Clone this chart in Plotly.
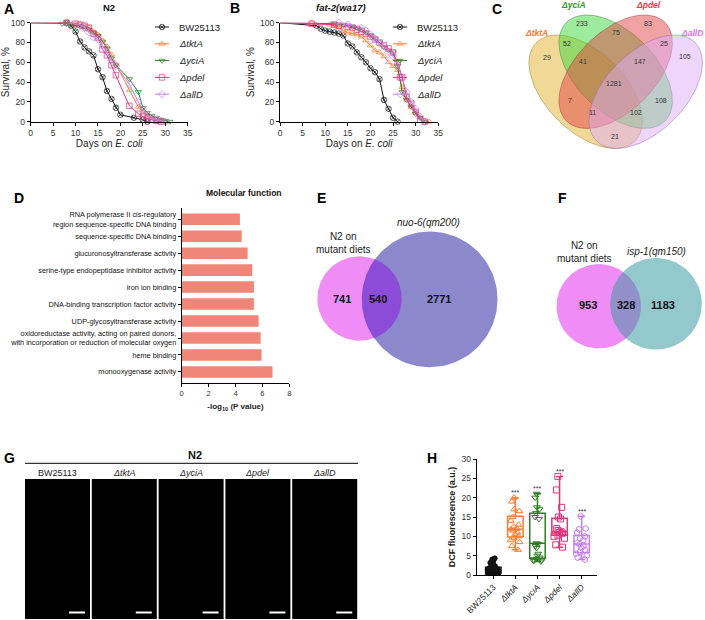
import numpy as np
import plotly.graph_objects as go

W, H = 705, 620
FONT = "Liberation Sans, Arial, sans-serif"

# ---------------- A / B : survival curves ----------------
strains = ["BW25113", "ΔtktA", "ΔyciA", "Δpdel", "ΔallD"]
colors = ["#111111", "#FF7A2A", "#2E7D22", "#E0337C", "#C77DF3"]
symbols = ["circle-x-open", "triangle-up-open", "triangle-down-open", "square-open", "diamond-open"]

n2_days = [
    [0, 8, 9, 10, 11, 12, 13, 14, 15, 16, 17, 18, 19, 20, 23, 25, 26],
    [0, 8, 10, 11, 12, 13, 14, 15, 16, 17, 18, 19, 22, 24, 25, 26, 27, 28, 29, 30],
    [0, 7, 8, 9, 10, 11, 12, 13, 14, 15, 16, 17, 18, 19, 22, 24, 25, 26, 27, 28, 29, 30, 31],
    [0, 8, 10, 11, 12, 13, 14, 15, 16, 17, 18, 19, 22, 24, 25, 26, 27, 28, 29],
    [0, 8, 11, 12, 13, 14, 15, 16, 17, 18, 19, 22, 24, 25, 26, 27, 28, 29, 30],
]
n2_surv = [
    [100, 100, 97, 91, 81, 75, 71, 67, 53, 45, 31, 23, 14, 7, 4, 2, 0],
    [100, 100, 99, 98, 97, 95, 91, 88, 82, 76, 68, 58, 32, 15, 10, 6, 4, 2, 1, 0],
    [100, 99, 99, 98, 97, 96, 94, 93, 90, 87, 81, 74, 64, 57, 43, 30, 14, 9, 6, 4, 2, 1, 0],
    [100, 100, 99, 98, 97, 95, 89, 85, 73, 67, 57, 47, 16, 8, 5, 3, 2, 1, 0],
    [100, 100, 98, 95, 90, 85, 83, 77, 70, 62, 56, 38, 20, 12, 7, 4, 2, 1, 0],
]
fat2_days = [
    [0, 8, 9, 10, 11, 12, 13, 14, 15, 16, 17, 18, 19, 20, 21, 22, 23, 24, 25, 26],
    [0, 7, 11, 12, 13, 14, 15, 16, 17, 18, 19, 20, 21, 22, 23, 24, 25, 26, 27, 28, 29, 30, 31, 32, 33],
    [0, 12, 14, 16, 17, 18, 19, 20, 21, 22, 23, 24, 25, 26, 27, 28, 29, 30, 31, 32],
    [0, 7, 12, 13, 15, 16, 17, 18, 19, 20, 21, 22, 23, 24, 25, 26, 27, 28, 29, 30, 31, 32],
    [0, 13, 15, 18, 19, 20, 21, 22, 23, 24, 25, 26, 27, 28, 29, 30, 31, 32],
]
fat2_surv = [
    [100, 97, 94, 92, 91, 90, 89, 87, 79, 76, 70, 65, 60, 54, 50, 43, 22, 13, 4, 0],
    [100, 100, 98, 97, 95, 92, 90, 89, 88, 86, 82, 77, 72, 70, 66, 60, 56, 52, 35, 22, 15, 10, 4, 1, 0],
    [100, 99, 98, 96, 95, 93, 90, 87, 84, 80, 75, 72, 70, 56, 30, 22, 15, 8, 4, 0],
    [100, 99, 98, 97, 96, 95, 93, 91, 89, 86, 83, 80, 77, 74, 70, 60, 45, 25, 18, 10, 2, 0],
    [100, 100, 98, 95, 92, 88, 84, 79, 76, 70, 66, 58, 44, 30, 20, 13, 5, 0],
]

# ---------------- C : four-set Venn ----------------
venn4_sets = ["ΔtktA", "ΔyciA", "Δpdel", "ΔallD"]
venn4_counts = [29, 233, 83, 105, 52, 75, 25, 41, 147, 1281, 7, 108, 11, 102, 21]

# ---------------- D : GO molecular function ----------------
go_terms = [
    "RNA polymerase II cis-regulatory<br>region sequence-specific DNA binding",
    "sequence-specific DNA binding",
    "glucuronosyltransferase activity",
    "serine-type endopeptidase inhibitor activity",
    "iron ion binding",
    "DNA-binding transcription factor activity",
    "UDP-glycosyltransferase activity",
    "oxidoreductase activity, acting on paired donors,<br>with incorporation or reduction of molecular oxygen",
    "heme binding",
    "monooxygenase activity",
]
go_logp = [4.33, 4.46, 4.90, 5.25, 5.37, 5.37, 5.72, 5.87, 5.94, 6.75]

# ---------------- E / F : two-set Venns ----------------
e_counts = [741, 540, 2771]
f_counts = [953, 328, 1183]

# ---------------- H : DCF fluorescence ----------------
dcf_points = [
    [0.1, 0.2, 0.3, 0.4, 0.5, 0.5, 0.6, 0.7, 0.8, 0.9, 1.0, 1.0, 1.1, 1.2, 1.3, 1.5,
     1.6, 1.8, 2.0, 2.1, 2.3, 2.5, 2.8, 3.2, 3.6, 4.0, 4.3],
    [6.5, 7.5, 8.5, 9.0, 9.6, 10.0, 10.5, 11.0, 11.5, 11.8, 12.0, 12.5, 13.0, 14.0,
     15.0, 16.5, 17.0, 19.0, 20.0],
    [3.5, 3.6, 3.8, 4.0, 4.2, 4.5, 5.0, 5.5, 7.0, 7.5, 8.0, 8.2, 14.5, 15.0, 16.0,
     17.0, 17.5, 20.0, 21.0],
    [7.2, 7.8, 9.5, 10.0, 10.3, 10.8, 11.0, 11.2, 11.5, 12.0, 14.5, 15.0, 17.5, 22.0, 25.5],
    [4.0, 4.5, 5.0, 5.5, 6.0, 6.5, 7.0, 7.5, 8.0, 8.3, 9.0, 9.5, 10.0, 11.0, 11.8, 12.0, 15.2],
]
dcf_q1 = [0.5, 9.8, 4.3, 10.3, 5.8]
dcf_median = [1.0, 11.8, 8.2, 11.2, 8.0]
dcf_q3 = [2.0, 15.2, 16.0, 14.7, 10.2]
dcf_sig = ["", "***", "***", "***", "***"]


def px_x(p):
    return p / W


def px_y(p):
    return 1 - p / H


def label(s):
    return s if s.startswith("BW") else "<i>" + s + "</i>"


fig = go.Figure()

axis_common = dict(showline=True, linecolor="black", linewidth=1, ticks="outside",
                   ticklen=3, tickwidth=1, tickcolor="black", showgrid=False,
                   zeroline=False, automargin=False, tickfont=dict(size=8.5, color="#333"))

# survival panels
for days, surv, xa, ya in [(n2_days, n2_surv, "x", "y"), (fat2_days, fat2_surv, "x2", "y2")]:
    for i, s in enumerate(strains):
        sizes = [0] + [5.5] * (len(days[i]) - 1)
        fig.add_trace(go.Scatter(
            x=days[i], y=surv[i], mode="lines+markers", name=label(s),
            xaxis=xa, yaxis=ya, showlegend=False, cliponaxis=False,
            line=dict(color=colors[i], width=1),
            marker=dict(symbol=symbols[i], size=sizes, color=colors[i],
                        line=dict(width=1, color=colors[i]))))

fig.update_layout(
    xaxis=dict(domain=[px_x(30.7), px_x(187.7)], range=[0, 35], dtick=5, anchor="y",
               title=dict(text="Days on <i>E. coli</i>", font=dict(size=10), standoff=3),
               **axis_common),
    yaxis=dict(domain=[px_y(121.7), px_y(22.7)], range=[0, 100], dtick=20, anchor="x",
               title=dict(text="Survival, %", font=dict(size=10), standoff=3),
               **axis_common),
    xaxis2=dict(domain=[px_x(280), px_x(438.3)], range=[0, 35], dtick=5, anchor="y2",
                title=dict(text="Days on <i>E. coli</i>", font=dict(size=10), standoff=3),
                **axis_common),
    yaxis2=dict(domain=[px_y(121.7), px_y(22.7)], range=[0, 100], dtick=20, anchor="x2",
                title=dict(text="Survival, %", font=dict(size=10), standoff=3),
                **axis_common),
)

# D: horizontal bars
fig.add_trace(go.Bar(
    x=go_logp, y=list(range(len(go_terms))), orientation="h",
    marker=dict(color="#EF8677", line=dict(width=0)), width=0.68,
    xaxis="x3", yaxis="y3", showlegend=False))
fig.update_layout(
    xaxis3=dict(domain=[px_x(181.7), px_x(289.3)], range=[0, 8], dtick=2, anchor="y3",
                title=dict(text="<b>-log<sub>10</sub> (P value)</b>", font=dict(size=8), standoff=6),
                **{**axis_common, "tickfont": dict(size=7.5, color="#333")}),
    yaxis3=dict(domain=[px_y(383.3), px_y(207.7)], range=[len(go_terms) - 0.33, -0.68],
                tickmode="array", tickvals=list(range(len(go_terms))), ticktext=go_terms,
                anchor="x3",
                **{**axis_common, "tickfont": dict(size=7.3, color="#111")}),
)

# H: box plots
cats = [label(s) for s in strains]
for i, s in enumerate(strains):
    pts = dcf_points[i]
    fig.add_trace(go.Box(
        x=[cats[i]], q1=[dcf_q1[i]], median=[dcf_median[i]], q3=[dcf_q3[i]],
        lowerfence=[min(pts)], upperfence=[max(pts)], boxpoints=False,
        fillcolor="rgba(0,0,0,0)", line=dict(color=colors[i], width=1.5),
        whiskerwidth=0.45, width=0.7, xaxis="x4", yaxis="y4", showlegend=False))
    filled = i == 0
    fig.add_trace(go.Box(
        x=[cats[i]] * len(pts), y=pts, boxpoints="all", jitter=0.85, pointpos=0,
        fillcolor="rgba(0,0,0,0)", line=dict(width=0, color="rgba(0,0,0,0)"),
        marker=dict(symbol="circle" if filled else symbols[i].replace("diamond", "hexagon"),
                    size=5 if filled else 6, color=colors[i],
                    line=dict(width=1, color=colors[i])),
        width=0.7, xaxis="x4", yaxis="y4", showlegend=False))
    if dcf_sig[i]:
        fig.add_annotation(x=cats[i], y=max(pts) + 1.3, xref="x4", yref="y4",
                           text=dcf_sig[i], showarrow=False,
                           font=dict(size=7, color="#333"))

fig.update_layout(
    boxmode="overlay",
    xaxis4=dict(domain=[px_x(476.7), px_x(596.7)], range=[-0.75, 4.68], anchor="y4",
                type="category", categoryarray=cats, tickangle=-45,
                **{**axis_common, "tickfont": dict(size=8.5, color="#222")}),
    yaxis4=dict(domain=[px_y(575), px_y(459)], range=[0, 30], dtick=5, anchor="x4",
                title=dict(text="<b>DCF fluorescence (a.u.)</b>", font=dict(size=9), standoff=4),
                **axis_common),
)

# canvas axis in pixel units for legends, Venns, images and labels
fig.update_layout(
    xaxis5=dict(domain=[0, 1], range=[0, W], visible=False, anchor="y5", fixedrange=True,
                automargin=False),
    yaxis5=dict(domain=[0, 1], range=[H, 0], visible=False, anchor="x5", fixedrange=True,
                automargin=False),
)

# compact legends (short key lines like the original)
for key_x in (155, 393):
    for i, s in enumerate(strains):
        row = 27 + 16.8 * i
        fig.add_trace(go.Scatter(
            x=[key_x, key_x + 7, key_x + 14], y=[row] * 3, mode="lines+markers",
            line=dict(color=colors[i], width=1),
            marker=dict(symbol=symbols[i], size=[0, 5.5, 0], color=colors[i],
                        line=dict(width=1, color=colors[i])),
            xaxis="x5", yaxis="y5", showlegend=False, hoverinfo="skip"))
        fig.add_annotation(x=key_x + 22, y=row, xref="x5", yref="y5", text=label(s),
                           xanchor="left", showarrow=False, font=dict(size=9.5, color="#222"))


def ellipse(cx, cy, a, b, ang, n=160):
    t = np.linspace(0, 2 * np.pi, n)
    c, s = np.cos(np.radians(ang)), np.sin(np.radians(ang))
    return cx + a * np.cos(t) * c - b * np.sin(t) * s, cy + a * np.cos(t) * s + b * np.sin(t) * c


def lens(c1, r1, c2, r2, n=80):
    d = np.hypot(c2[0] - c1[0], c2[1] - c1[1])
    rot = np.arctan2(c2[1] - c1[1], c2[0] - c1[0])
    a = (d * d + r1 * r1 - r2 * r2) / (2 * d)
    h = np.sqrt(r1 * r1 - a * a)
    t1 = np.arctan2(h, a)
    t2 = np.arctan2(h, a - d)
    arc1 = np.linspace(-t1, t1, n)
    arc2 = np.linspace(t2, 2 * np.pi - t2, n)
    lx = np.concatenate([r1 * np.cos(arc1), d + r2 * np.cos(arc2)])
    ly = np.concatenate([r1 * np.sin(arc1), r2 * np.sin(arc2)])
    return (c1[0] + lx * np.cos(rot) - ly * np.sin(rot),
            c1[1] + lx * np.sin(rot) + ly * np.cos(rot))


def blob(x, y, fill, line="rgba(0,0,0,0)"):
    fig.add_trace(go.Scatter(x=x, y=y, mode="lines", fill="toself", fillcolor=fill,
                             line=dict(color=line, width=0.7), xaxis="x5", yaxis="y5",
                             showlegend=False, hoverinfo="skip"))


# C: ellipses
v4_geom = [(585.7, 91.7, 45), (615.7, 71.7, 45), (615.7, 71.7, -45), (645.7, 91.7, -45)]
v4_fill = ["rgba(226,178,48,0.5)", "rgba(60,215,60,0.5)", "rgba(226,70,70,0.5)", "rgba(222,172,245,0.5)"]
v4_line = ["rgba(150,120,40,0.7)", "rgba(60,130,60,0.7)", "rgba(160,60,60,0.7)", "rgba(150,110,170,0.7)"]
for (cx, cy, ang), f, l in zip(v4_geom, v4_fill, v4_line):
    ex, ey = ellipse(cx, cy, 69.7, 39.7, ang)
    blob(ex, ey, f, l)

v4_pos = [(547.3, 57.3), (581.7, 23.3), (648.3, 23.3), (685.3, 56.7), (567.3, 43.3),
          (615.7, 32.7), (664, 43.3), (582.7, 61.7), (640, 61.7), (614, 83.3),
          (570, 100), (660.7, 100), (592.7, 112.7), (636, 112.7), (615, 136)]
for (x, y), n in zip(v4_pos, venn4_counts):
    fig.add_annotation(x=x, y=y, xref="x5", yref="y5", text=str(n), showarrow=False,
                       font=dict(size=7, color="#333"))
v4_label_pos = [(536, 33, "center"), (573, 5, "center"), (648, 5, "center"), (705, 33, "right")]
v4_label_col = ["#F07A30", "#2E9A2E", "#E8384A", "#E070F0"]
for (x, y, anc), s, c in zip(v4_label_pos, venn4_sets, v4_label_col):
    fig.add_annotation(x=x, y=y, xref="x5", yref="y5", text="<b><i>%s</i></b>" % s,
                       showarrow=False, xanchor=anc, font=dict(size=8.5, color=c))

# E / F: area-proportional two-set Venns
k = 42.2 / np.sqrt(e_counts[0] + e_counts[1])
for counts, c1, c2, col2, colmid, lab_x in [
        (e_counts, (359.5, 298.5), (429.7, 299.3), "#8B89CB", "#8D4CD7", (341.7, 378.3, 439)),
        (f_counts, (598.7, 306.3), (656.0, 303.8), "#93C8CC", "#9290C9", (587.7, 626, 663.3))]:
    r1 = k * np.sqrt(counts[0] + counts[1])
    r2 = k * np.sqrt(counts[1] + counts[2])
    ex, ey = ellipse(c1[0], c1[1], r1, r1, 0)
    blob(ex, ey, "#F08CF6")
    ex, ey = ellipse(c2[0], c2[1], r2, r2, 0)
    blob(ex, ey, col2)
    lx, ly = lens(c1, r1, c2, r2)
    blob(lx, ly, colmid)
    for x, n in zip(lab_x, counts):
        fig.add_annotation(x=x, y=(c1[1] + c2[1]) / 2, xref="x5", yref="y5", text="<b>%d</b>" % n,
                           showarrow=False, font=dict(size=11, color="#111"))

texts = [
    (343, 243, "N2 on<br>mutant diets", 10, "#222"),
    (428.3, 222.7, "<i>nuo-6(qm200)</i>", 10, "#222"),
    (584.3, 252, "N2 on<br>mutant diets", 10, "#222"),
    (656.7, 251.7, "<i>isp-1(qm150)</i>", 10, "#222"),
    (109, 7, "<b>N2</b>", 9.5, "#111"),
    (341, 7, "<b><i>fat-2(wa17)</i></b>", 9.5, "#111"),
    (244, 193, "<b>Molecular function</b>", 8.5, "#111"),
    (195, 455, "<b>N2</b>", 11, "#111"),
]
for x, y, t, sz, c in texts:
    fig.add_annotation(x=x, y=y, xref="x5", yref="y5", text=t, showarrow=False,
                       font=dict(size=sz, color=c))

for x, y, t in [(8.5, 9, "A"), (235, 8, "B"), (497, 9, "C"), (19.3, 198, "D"), (321.7, 198.3, "E"),
                (562.7, 198.3, "F"), (9.3, 458.3, "G"), (431.7, 458.3, "H")]:
    fig.add_annotation(x=x, y=y, xref="x5", yref="y5", text="<b>%s</b>" % t, showarrow=False,
                       font=dict(size=14, color="black"))

# G: fluorescence image panels
fig.add_shape(type="line", x0=25, x1=358, y0=463.3, y1=463.3, xref="x5", yref="y5",
              line=dict(color="black", width=1))
for i, s in enumerate(strains):
    x0 = 25 + i * 66.8
    fig.add_shape(type="rect", x0=x0, x1=x0 + 65, y0=479, y1=619, xref="x5", yref="y5",
                  fillcolor="black", line=dict(width=0), layer="above")
    fig.add_shape(type="line", x0=x0 + 44, x1=x0 + 60, y0=612.5, y1=612.5, xref="x5", yref="y5",
                  line=dict(color="white", width=2), layer="above")
    fig.add_annotation(x=x0 + 32.5, y=472.5, xref="x5", yref="y5", text=label(s),
                       showarrow=False, font=dict(size=9, color="#222"))

fig.update_layout(
    width=W, height=H, margin=dict(l=0, r=0, t=0, b=0, autoexpand=False),
    paper_bgcolor="white", plot_bgcolor="rgba(0,0,0,0)", showlegend=False,
    font=dict(family=FONT, color="#222"),
)

# page body has a default 8px margin; drop it so the figure sits at the window origin
fig.write_html("out.html", config={"displayModeBar": False},
               post_script="document.body.style.margin='0px';")
